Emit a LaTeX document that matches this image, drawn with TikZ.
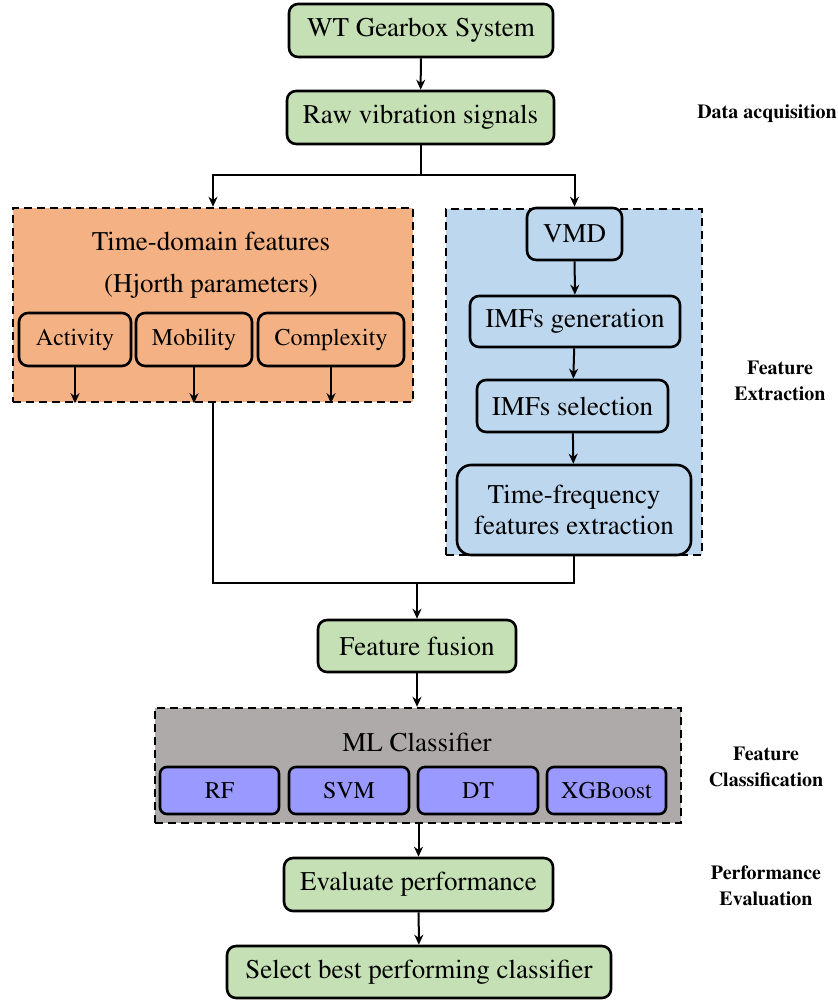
\documentclass[tikz,border=0pt]{standalone}
\usepackage[T1]{fontenc}
\renewcommand{\rmdefault}{ptm}
\usepackage{xcolor}
\usepackage{tikz}
\usetikzlibrary{positioning}
\usetikzlibrary{arrows.meta}

\definecolor{stepgreen}{HTML}{C5E0B4}
\definecolor{hjorange}{HTML}{F4B183}
\definecolor{vmdblue}{HTML}{BDD7EE}
\definecolor{clsgray}{HTML}{AEAAAA}
\definecolor{clspurple}{HTML}{9999FF}

\begin{document}
\begin{tikzpicture}[
    x = .5pt,
    y = -.5pt,
    font = \rmfamily\fontsize{13.5}{15.5}\selectfont,
    >={Stealth[length=5pt,width=4.5pt]},
    stepf/.style = {
      rectangle,
      draw=black,
      rounded corners=1.6mm,
      fill=stepgreen,
      line width=1.3pt,
      inner sep=0pt,
      align=center
    },
    hjf/.style = {
      stepf,
      fill=hjorange,
      font=\rmfamily\fontsize{12}{14}\selectfont
    },
    vmdf/.style = {
      stepf,
      fill=vmdblue
    },
    clsf/.style = {
      stepf,
      rounded corners=1.2mm,
      fill=clspurple,
      font=\rmfamily\fontsize{12}{14}\selectfont
    },
    groupf/.style = {
      rectangle,
      draw=black,
      line width=1.2pt,
      dash pattern=on 4pt off 2.5pt,
      inner sep=0pt
    },
    stagea/.style = {
      font=\rmfamily\bfseries\fontsize{10}{13}\selectfont,
      align=center
    },
    linka/.style = {
      line width=1pt
    }
  ]
    \useasboundingbox (0,0) rectangle (837,1004);

    % groups
    \node[groupf, fill=hjorange, minimum width=200pt, minimum height=97pt] (tdbox) at (213,305) {};
    \node[groupf, fill=vmdblue, minimum width=128pt, minimum height=173pt] (vmdbox) at (574,382) {};
    \node[groupf, fill=clsgray, minimum width=263pt, minimum height=57.5pt] (clsbox) at (418,765.5) {};

    % main flow
    \node[stepf, minimum width=132pt, minimum height=26.5pt] (sys) at (421,30.5) {WT Gearbox System};
    \node[stepf, minimum width=133.5pt, minimum height=26.5pt] (raw) at (420.5,117.5) {Raw vibration signals};

    % time domain
    \node (tdtitle) at (211,241) {Time-domain features};
    \node (hjtitle) at (211,286) {(Hjorth parameters)};
    \node[hjf, minimum width=56pt, minimum height=26.5pt] (act) at (75,339.5) {Activity};
    \node[hjf, minimum width=58pt, minimum height=26.5pt] (mob) at (194,339.5) {Mobility};
    \node[hjf, minimum width=73pt, minimum height=26.5pt] (cpx) at (331,339.5) {Complexity};

    % vmd branch
    \node[vmdf, minimum width=47.5pt, minimum height=26pt] (vmd) at (574.5,234) {VMD};
    \node[vmdf, minimum width=105pt, minimum height=25.5pt] (gen) at (575,321.5) {IMFs generation};
    \node[vmdf, minimum width=95.5pt, minimum height=26pt] (sel) at (572.5,406) {IMFs selection};
    \node[vmdf, minimum width=117pt, minimum height=45pt, rounded corners=2.5mm] (tff) at (574,510) {Time-frequency\\features extraction};

    \node[stepf, minimum width=99pt, minimum height=26pt] (fus) at (417,646) {Feature fusion};

    % classifiers
    \node (clstitle) at (417,742) {ML Classifier};
    \node[clsf, minimum width=59.5pt, minimum height=23.5pt] (rf) at (219.5,790.5) {RF};
    \node[clsf, minimum width=60pt, minimum height=23.5pt] (svm) at (349,790.5) {SVM};
    \node[clsf, minimum width=60pt, minimum height=23.5pt] (dt) at (478,790.5) {DT};
    \node[clsf, minimum width=59.5pt, minimum height=23.5pt] (xgb) at (606.5,790.5) {XGBoost};

    \node[stepf, minimum width=134.5pt, minimum height=26.5pt] (eva) at (418.5,884.5) {Evaluate performance};
    \node[stepf, minimum width=192pt, minimum height=26pt] (best) at (419,972) {Select best performing classifier};

    % stage labels
    \node[stagea] (lacq) at (767,114) {Data acquisition};
    \node[stagea] (lext) at (780,381) {Feature\\Extraction};
    \node[stagea] (lcls) at (766,767) {Feature\\Classification};
    \node[stagea] (lper) at (766,886) {Performance\\Evaluation};

    % connectors
    \coordinate (split) at (420.5,175);
    \coordinate (merge) at (417,583);

    \draw[linka, ->] (sys) -- (raw);
    \draw[linka] (raw) -- (split);
    \draw[linka, ->] (split) -| (tdbox.north);
    \draw[linka, ->] (split) -| (vmd.north);

    \draw[linka, ->] (act.south) -- (act.south |- tdbox.south);
    \draw[linka, ->] (mob.south) -- (mob.south |- tdbox.south);
    \draw[linka, ->] (cpx.south) -- (cpx.south |- tdbox.south);

    \draw[linka, ->] (vmd) -- (gen);
    \draw[linka, ->] (gen) -- (sel);
    \draw[linka, ->] (sel) -- (tff);

    \draw[linka] (tdbox.south) |- (merge);
    \draw[linka] (tff.south) |- (merge);
    \draw[linka, ->] (merge) -- (fus.north);

    \draw[linka, ->] (fus) -- (clsbox.north -| fus.south);
    \draw[linka, ->] (clsbox.south -| eva.north) -- (eva);
    \draw[linka, ->] (eva) -- (best);

  \end{tikzpicture}
\end{document}
